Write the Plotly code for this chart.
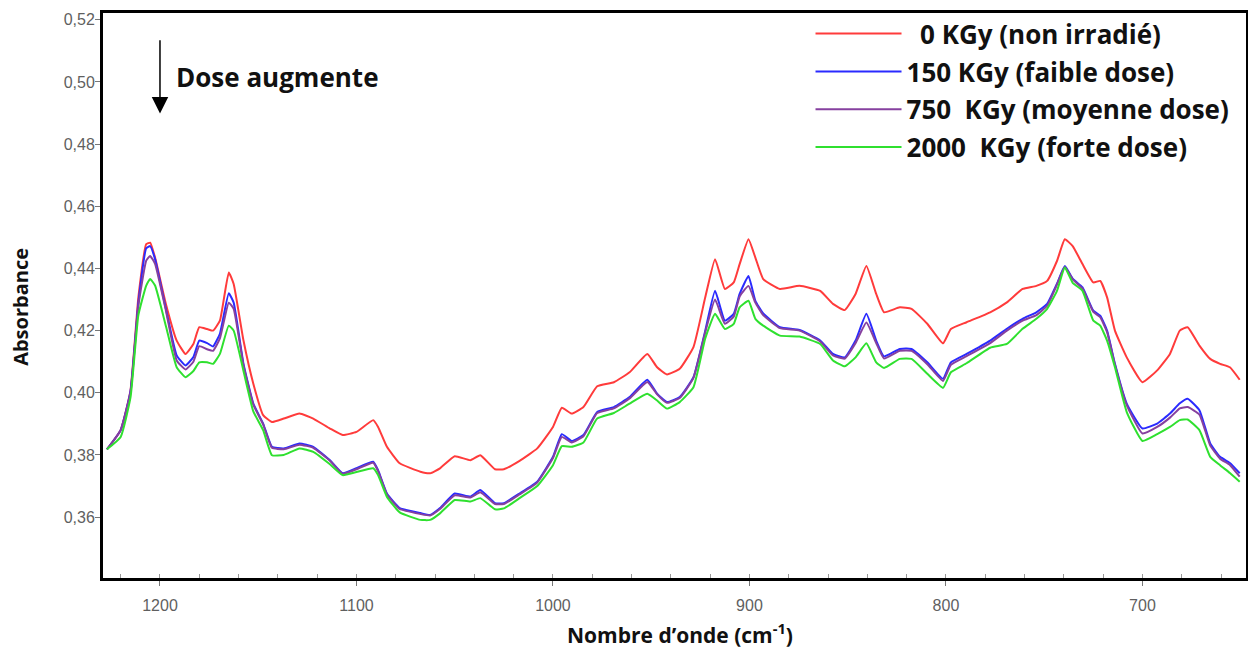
import plotly.graph_objects as go

wavenumber = [
    1227, 1220, 1215, 1211, 1207, 1205, 1202.5, 1197, 1191.5, 1187,
    1183, 1180, 1176, 1173, 1169.5, 1165, 1162.5, 1157.5, 1152.5, 1147.5,
    1143, 1137, 1129, 1122, 1113.5, 1107, 1100, 1091.5, 1089, 1084.5,
    1078, 1067.5, 1062.5, 1057.5, 1050, 1042, 1037, 1029.5, 1025, 1017,
    1008, 1000, 995.5, 990.5, 984.5, 977.5, 969, 961, 952, 947,
    942, 935.5, 928.5, 922.5, 917.5, 912.5, 908, 905, 900.5, 897,
    893, 884.5, 874.5, 864, 857.5, 851.5, 846, 840.5, 835.5, 831.5,
    823.5, 817.5, 809.5, 801.5, 797.5, 789.5, 777.5, 769, 761, 754,
    748.5, 743.5, 739.5, 735.5, 730.5, 725, 721.5, 718, 714, 708,
    700, 692.5, 686, 681, 677, 671, 665.5, 660.5, 655.5, 650.5,
]

abs_0kgy = [
    0.3818, 0.3880, 0.4008, 0.4307, 0.4478, 0.4483, 0.4435, 0.4286, 0.4168, 0.4125,
    0.4157, 0.4211, 0.4205, 0.4200, 0.4232, 0.4387, 0.4350, 0.4168, 0.4029, 0.3928,
    0.3906, 0.3917, 0.3933, 0.3917, 0.3885, 0.3864, 0.3874, 0.3912, 0.3890, 0.3826,
    0.3773, 0.3746, 0.3741, 0.3757, 0.3796, 0.3783, 0.3799, 0.3754, 0.3754, 0.3781,
    0.3821, 0.3890, 0.3952, 0.3933, 0.3954, 0.4021, 0.4034, 0.4066, 0.4125, 0.4082,
    0.4059, 0.4077, 0.4147, 0.4307, 0.4430, 0.4334, 0.4355, 0.4414, 0.4494, 0.4435,
    0.4366, 0.4334, 0.4344, 0.4328, 0.4286, 0.4266, 0.4318, 0.4408, 0.4318, 0.4259,
    0.4275, 0.4270, 0.4222, 0.4159, 0.4205, 0.4227, 0.4259, 0.4291, 0.4334, 0.4344,
    0.4360, 0.4424, 0.4494, 0.4472, 0.4414, 0.4355, 0.4360, 0.4307, 0.4200, 0.4114,
    0.4034, 0.4072, 0.4125, 0.4200, 0.4211, 0.4152, 0.4109, 0.4093, 0.4082, 0.4042,
]

abs_150kgy = [
    0.3818, 0.3880, 0.4005, 0.4290, 0.4465, 0.4472, 0.4430, 0.4270, 0.4120, 0.4088,
    0.4115, 0.4168, 0.4160, 0.4149, 0.4190, 0.4320, 0.4290, 0.4093, 0.3965, 0.3901,
    0.3826, 0.3821, 0.3837, 0.3826, 0.3783, 0.3741, 0.3757, 0.3778, 0.3751, 0.3676,
    0.3629, 0.3613, 0.3607, 0.3629, 0.3676, 0.3666, 0.3687, 0.3645, 0.3645, 0.3676,
    0.3714, 0.3794, 0.3867, 0.3845, 0.3864, 0.3938, 0.3954, 0.3986, 0.4042, 0.3997,
    0.3970, 0.3986, 0.4050, 0.4200, 0.4328, 0.4232, 0.4254, 0.4318, 0.4376, 0.4296,
    0.4255, 0.4211, 0.4202, 0.4168, 0.4125, 0.4114, 0.4168, 0.4254, 0.4168, 0.4117,
    0.4141, 0.4141, 0.4098, 0.4045, 0.4098, 0.4125, 0.4168, 0.4206, 0.4238, 0.4259,
    0.4286, 0.4351, 0.4408, 0.4367, 0.4339, 0.4264, 0.4248, 0.4200, 0.4093, 0.3965,
    0.3885, 0.3901, 0.3933, 0.3966, 0.3981, 0.3944, 0.3837, 0.3794, 0.3774, 0.3741,
]

abs_750kgy = [
    0.3818, 0.3880, 0.4000, 0.4280, 0.4425, 0.4440, 0.4415, 0.4265, 0.4104, 0.4075,
    0.4100, 0.4150, 0.4140, 0.4135, 0.4175, 0.4290, 0.4270, 0.4088, 0.3962, 0.3898,
    0.3823, 0.3818, 0.3833, 0.3823, 0.3781, 0.3739, 0.3754, 0.3775, 0.3748, 0.3673,
    0.3626, 0.3610, 0.3605, 0.3626, 0.3670, 0.3663, 0.3680, 0.3642, 0.3642, 0.3673,
    0.3711, 0.3790, 0.3858, 0.3840, 0.3860, 0.3935, 0.3950, 0.3982, 0.4035, 0.3995,
    0.3968, 0.3983, 0.4048, 0.4195, 0.4300, 0.4222, 0.4245, 0.4310, 0.4344, 0.4290,
    0.4250, 0.4208, 0.4200, 0.4165, 0.4120, 0.4110, 0.4160, 0.4226, 0.4160, 0.4110,
    0.4135, 0.4135, 0.4092, 0.4038, 0.4090, 0.4118, 0.4160, 0.4200, 0.4232, 0.4250,
    0.4280, 0.4348, 0.4405, 0.4365, 0.4335, 0.4260, 0.4243, 0.4195, 0.4090, 0.3960,
    0.3869, 0.3890, 0.3920, 0.3950, 0.3954, 0.3930, 0.3830, 0.3788, 0.3768, 0.3730,
]

abs_2000kgy = [
    0.3818, 0.3858, 0.3985, 0.4250, 0.4345, 0.4366, 0.4345, 0.4215, 0.4082, 0.4050,
    0.4070, 0.4098, 0.4098, 0.4093, 0.4125, 0.4216, 0.4200, 0.4070, 0.3940, 0.3880,
    0.3799, 0.3800, 0.3821, 0.3810, 0.3770, 0.3735, 0.3745, 0.3757, 0.3735, 0.3665,
    0.3615, 0.3591, 0.3591, 0.3612, 0.3655, 0.3650, 0.3661, 0.3625, 0.3628, 0.3661,
    0.3700, 0.3767, 0.3828, 0.3826, 0.3840, 0.3917, 0.3935, 0.3965, 0.3997, 0.3975,
    0.3949, 0.3970, 0.4018, 0.4175, 0.4254, 0.4205, 0.4222, 0.4275, 0.4296, 0.4238,
    0.4216, 0.4184, 0.4181, 0.4157, 0.4104, 0.4085, 0.4114, 0.4159, 0.4098, 0.4080,
    0.4109, 0.4109, 0.4061, 0.4016, 0.4066, 0.4095, 0.4145, 0.4157, 0.4206, 0.4238,
    0.4270, 0.4328, 0.4403, 0.4354, 0.4328, 0.4232, 0.4216, 0.4168, 0.4082, 0.3938,
    0.3845, 0.3867, 0.3890, 0.3912, 0.3914, 0.3880, 0.3794, 0.3767, 0.3742, 0.3714,
]

series_names = [
    "  0 KGy (non irradié)",
    "150 KGy (faible dose)",
    "750  KGy (moyenne dose)",
    "2000  KGy (forte dose)",
]
series_values = [abs_0kgy, abs_150kgy, abs_750kgy, abs_2000kgy]
series_colors = ["#ff3b3b", "#2a2aff", "#86409f", "#2fe02f"]

x_range = [1229, 647.3]
y_range = [0.3404, 0.5222]

fig = go.Figure()
for i, (name, vals, col) in enumerate(zip(series_names, series_values, series_colors)):
    fig.add_trace(go.Scatter(
        x=wavenumber, y=vals, mode="lines", name=name,
        line=dict(color=col, width=2, shape="spline", smoothing=0.4),
        legendgroup=f"g{i}",
    ))

tick_font = dict(family="Liberation Sans", size=16, color="#5f5f5f")

fig.update_layout(
    width=1240, height=643,
    margin=dict(l=95, r=2, t=3, b=73),
    paper_bgcolor="white", plot_bgcolor="white",
    separators=", ",
    showlegend=True,
    legend=dict(
        x=0.619, y=1.005, xanchor="left", yanchor="top",
        bgcolor="rgba(0,0,0,0)", borderwidth=0,
        font=dict(family="Open Sans", size=26, color="#111111", weight="bold"),
        traceorder="grouped", tracegroupgap=1, itemwidth=86,
    ),
    xaxis=dict(
        range=x_range, dtick=100, tick0=0, automargin=False,
        showgrid=False, zeroline=False,
        showline=True, linecolor="black", linewidth=3, mirror=True,
        ticks="outside", ticklen=5, tickcolor="#777777", tickwidth=1,
        tickfont=tick_font, ticklabelstandoff=6,
        minor=dict(dtick=20, ticks="inside", ticklen=4, tickcolor="#999999", showgrid=False),
    ),
    yaxis=dict(
        range=y_range, dtick=0.02, tick0=0, tickformat=".2f", automargin=False,
        showgrid=False, zeroline=False,
        showline=True, linecolor="black", linewidth=3, mirror=True,
        ticks="outside", ticklen=5, tickcolor="#777777", tickwidth=1,
        tickfont=tick_font, ticklabelstandoff=-3,
    ),
    annotations=[
        dict(
            x=1200, y=0.4899, ax=1200, ay=0.5139,
            xref="x", yref="y", axref="x", ayref="y",
            text="", showarrow=True, arrowhead=2, arrowsize=2.2,
            arrowwidth=1.5, arrowcolor="black",
        ),
        dict(
            x=1193, y=0.5017, xref="x", yref="y", xanchor="left", yanchor="middle",
            text="<b>Dose augmente</b>", showarrow=False,
            font=dict(family="Open Sans", size=26, color="#111111"),
        ),
        dict(
            x=0.505, y=-0.0988, xref="paper", yref="paper",
            xanchor="center", yanchor="middle", showarrow=False,
            text="<b>Nombre d’onde (cm<sup>-1</sup>)</b>",
            font=dict(family="Open Sans", size=21, color="#111111"),
        ),
        dict(
            x=-0.0717, y=0.48, xref="paper", yref="paper",
            xanchor="center", yanchor="middle", showarrow=False, textangle=-90,
            text="<b>Absorbance</b>",
            font=dict(family="Open Sans", size=20, color="#111111"),
        ),
    ],
)

fig.write_html("out.html")
